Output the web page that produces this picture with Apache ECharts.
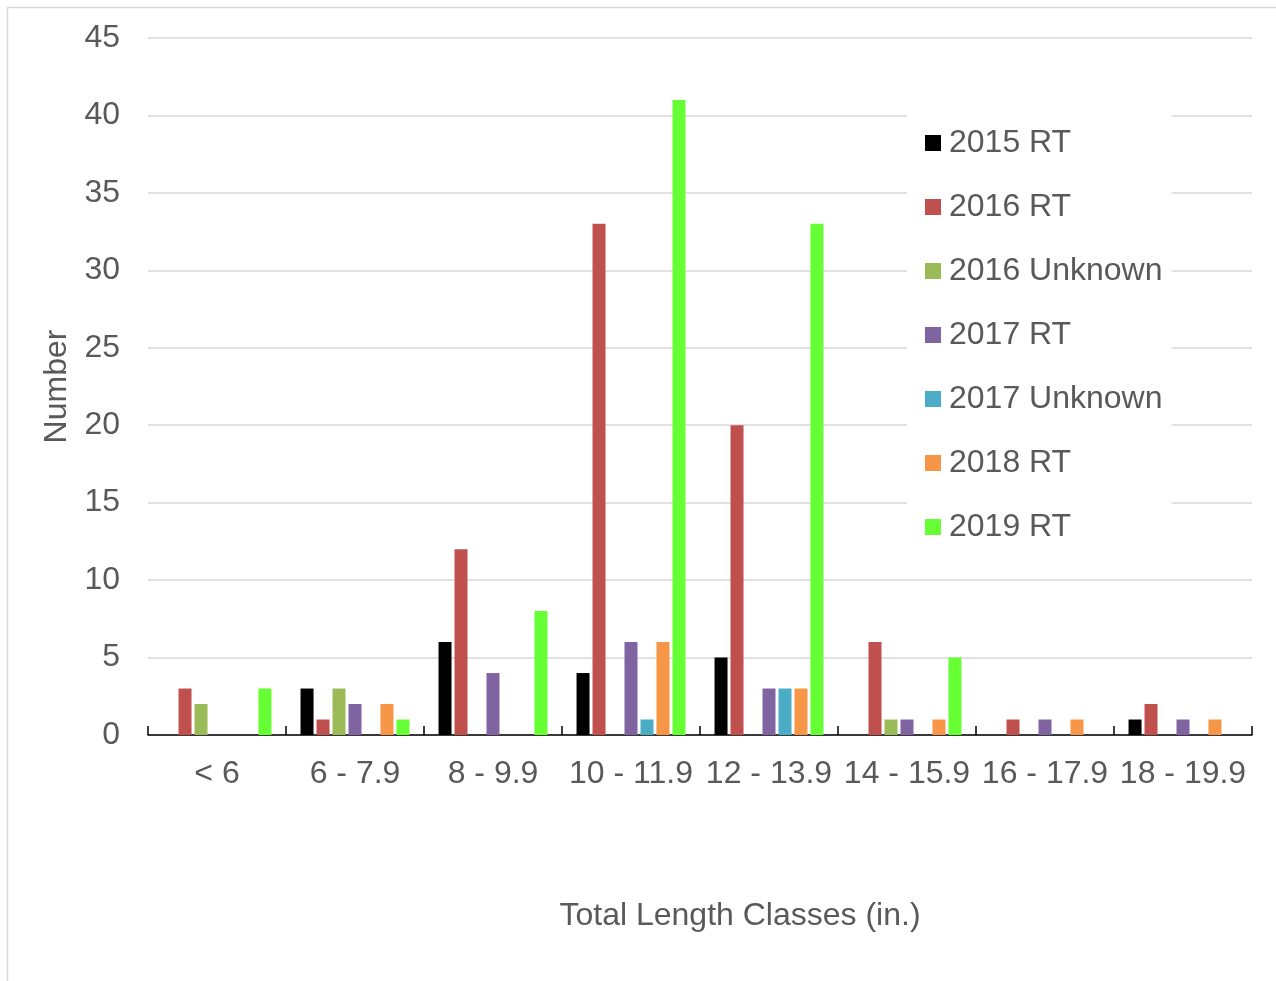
<!DOCTYPE html>
<html>
<head>
<meta charset="utf-8">
<script src="https://cdn.jsdelivr.net/npm/echarts@6/dist/echarts.min.js"></script>
<style>
html,body{margin:0;padding:0;background:#fff;}
#chart{width:1276px;height:981px;}
</style>
</head>
<body>
<div id="chart"></div>
<script>
const categories = ["< 6", "6 - 7.9", "8 - 9.9", "10 - 11.9", "12 - 13.9", "14 - 15.9", "16 - 17.9", "18 - 19.9"];
const seriesNames = ["2015 RT", "2016 RT", "2016 Unknown", "2017 RT", "2017 Unknown", "2018 RT", "2019 RT"];
const seriesColors = ["#000000", "#C0504D", "#9BBB59", "#8064A2", "#4BACC6", "#F79646", "#66FF33"];
const v2015RT = [0, 3, 6, 4, 5, 0, 0, 1];
const v2016RT = [3, 1, 12, 33, 20, 6, 1, 2];
const v2016Unknown = [2, 3, 0, 0, 0, 1, 0, 0];
const v2017RT = [0, 2, 4, 6, 3, 1, 1, 1];
const v2017Unknown = [0, 0, 0, 1, 3, 0, 0, 0];
const v2018RT = [0, 2, 0, 6, 3, 1, 1, 1];
const v2019RT = [3, 1, 8, 41, 33, 5, 0, 0];
const yTicks = [0, 5, 10, 15, 20, 25, 30, 35, 40, 45];

const allValues = [v2015RT, v2016RT, v2016Unknown, v2017RT, v2017Unknown, v2018RT, v2019RT];
const textColor = "#595959";
const font = "Liberation Sans, Arial, sans-serif";

const chart = echarts.init(document.getElementById("chart"), null, {renderer: "canvas"});
chart.setOption({
  animation: false,
  backgroundColor: "#fff",
  graphic: [{
    type: "rect",
    shape: {x: 7.5, y: 7.5, width: 1400, height: 1100},
    style: {fill: "none", stroke: "#d9d9d9", lineWidth: 1.5},
    silent: true, z: 0
  }],
  grid: {left: 148, right: 24, top: 38, bottom: 246, containLabel: false},
  legend: {
    orient: "vertical",
    left: 907, top: 102,
    padding: [25, 9, 20, 18],
    backgroundColor: "#fff",
    itemWidth: 16, itemHeight: 16,
    itemGap: 32,
    icon: "rect",
    data: seriesNames,
    textStyle: {fontSize: 32, fontFamily: font, color: textColor, lineHeight: 32, padding: [0, 0, 0, 3]}
  },
  xAxis: {
    type: "category",
    data: categories,
    boundaryGap: true,
    name: "Total Length Classes (in.)",
    nameLocation: "middle",
    nameGap: 165,
    nameTextStyle: {fontSize: 32, fontFamily: font, color: textColor, padding: [0, 0, 0, 80]},
    axisLine: {lineStyle: {color: "#000", width: 1.5}},
    axisTick: {show: true, inside: true, length: 9, alignWithLabel: false, lineStyle: {color: "#000", width: 1.5}},
    axisLabel: {fontSize: 32, fontFamily: font, color: textColor, margin: 23, interval: 0},
    splitLine: {show: false}
  },
  yAxis: {
    type: "value",
    min: yTicks[0], max: yTicks[yTicks.length - 1], interval: 5,
    name: "Number",
    nameLocation: "middle",
    nameGap: 73,
    nameTextStyle: {fontSize: 32, fontFamily: font, color: textColor},
    axisLine: {show: false},
    axisTick: {show: false},
    axisLabel: {fontSize: 32, fontFamily: font, color: textColor, margin: 28},
    splitLine: {lineStyle: {color: "#d9d9d9", width: 1.5}}
  },
  series: seriesNames.map((name, i) => ({
    name: name,
    type: "bar",
    data: allValues[i],
    barWidth: 13,
    barGap: "23%",
    itemStyle: {color: seriesColors[i]}
  }))
});
</script>
</body>
</html>
